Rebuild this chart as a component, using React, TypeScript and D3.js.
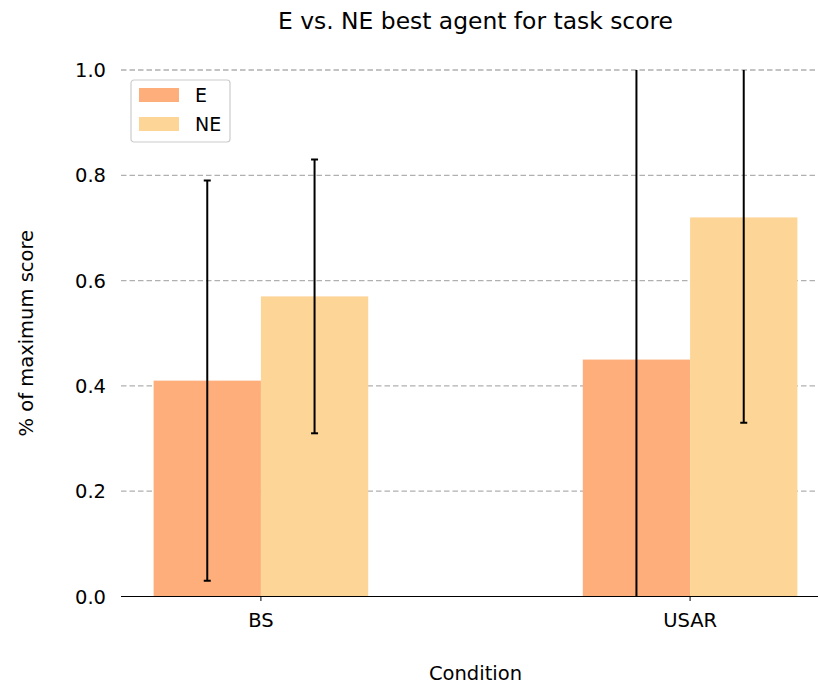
import React, { useEffect, useRef } from 'react';
import * as d3 from 'd3';

const conditions = ['BS', 'USAR'];
const seriesNames = ['E', 'NE'];
const eValues = [0.41, 0.45];
const neValues = [0.57, 0.72];
const eErrors = [0.38, 0.6];
const neErrors = [0.26, 0.39];
const yTicks = [0.0, 0.2, 0.4, 0.6, 0.8, 1.0];
const colors = ['#fdae7b', '#fdd597'];

const App: React.FC = () => {
  const svgRef = useRef<SVGSVGElement>(null);

  useEffect(() => {
    if (!svgRef.current) return;
    const width = 818;
    const height = 686;
    const svg = d3.select(svgRef.current);
    svg.selectAll('*').remove();
    svg.attr('width', width).attr('height', height);

    const font = 'DejaVu Sans, sans-serif';
    const tickSize = '19.5px';
    const margin = { top: 70, left: 121 };
    const plotRight = 830;
    const plotBottom = 596.5;

    const x = d3.scaleLinear().domain([-0.326, 1.326]).range([margin.left, plotRight]);
    const y = d3.scaleLinear().domain([0, 1]).range([plotBottom, margin.top]);
    const barW = 0.25;

    svg.append('defs').append('clipPath').attr('id', 'plotclip')
      .append('rect')
      .attr('x', margin.left).attr('y', margin.top)
      .attr('width', plotRight - margin.left).attr('height', plotBottom - margin.top);

    // grid
    svg.append('g').selectAll('line')
      .data(yTicks.filter(t => t > 0))
      .enter().append('line')
      .attr('x1', margin.left).attr('x2', plotRight)
      .attr('y1', d => y(d)).attr('y2', d => y(d))
      .attr('stroke', '#b0b0b0').attr('stroke-width', 1.3)
      .attr('stroke-dasharray', '5.5,3');

    const groups = [
      { vals: eValues, errs: eErrors, offset: -barW / 2, color: colors[0] },
      { vals: neValues, errs: neErrors, offset: barW / 2, color: colors[1] },
    ];

    const plot = svg.append('g').attr('clip-path', 'url(#plotclip)');

    groups.forEach(g => {
      plot.append('g').selectAll('rect')
        .data(conditions)
        .enter().append('rect')
        .attr('x', (_, i) => x(i + g.offset - barW / 2))
        .attr('width', (_, i) => x(i + g.offset + barW / 2) - x(i + g.offset - barW / 2))
        .attr('y', (_, i) => y(g.vals[i]))
        .attr('height', (_, i) => plotBottom - y(g.vals[i]))
        .attr('fill', g.color);
    });

    groups.forEach(g => {
      conditions.forEach((_, i) => {
        const cx = x(i + g.offset);
        const lo = g.vals[i] - g.errs[i];
        const hi = g.vals[i] + g.errs[i];
        const eg = plot.append('g').attr('stroke', '#000').attr('stroke-width', 2);
        eg.append('line').attr('x1', cx).attr('x2', cx).attr('y1', y(lo)).attr('y2', y(hi));
        [lo, hi].forEach(v => {
          eg.append('line').attr('x1', cx - 3.5).attr('x2', cx + 3.5).attr('y1', y(v)).attr('y2', y(v));
        });
      });
    });

    // x axis spine
    svg.append('line')
      .attr('x1', margin.left).attr('x2', plotRight)
      .attr('y1', plotBottom).attr('y2', plotBottom)
      .attr('stroke', '#000').attr('stroke-width', 1.2);

    conditions.forEach((c, i) => {
      svg.append('line')
        .attr('x1', x(i)).attr('x2', x(i))
        .attr('y1', plotBottom).attr('y2', plotBottom + 4.5)
        .attr('stroke', '#000').attr('stroke-width', 1);
      svg.append('text')
        .attr('x', x(i)).attr('y', plotBottom + 30.5)
        .attr('text-anchor', 'middle')
        .style('font-family', font).style('font-size', tickSize)
        .text(c);
    });

    yTicks.forEach(t => {
      svg.append('text')
        .attr('x', 106).attr('y', y(t) + 7)
        .attr('text-anchor', 'end')
        .style('font-family', font).style('font-size', tickSize)
        .text(t.toFixed(1));
    });

    svg.append('text')
      .attr('x', (margin.left + plotRight) / 2).attr('y', 29)
      .attr('text-anchor', 'middle')
      .style('font-family', font).style('font-size', '23.4px')
      .text('E vs. NE best agent for task score');

    svg.append('text')
      .attr('x', (margin.left + plotRight) / 2).attr('y', 680)
      .attr('text-anchor', 'middle')
      .style('font-family', font).style('font-size', tickSize)
      .text('Condition');

    svg.append('text')
      .attr('transform', `translate(33,${(margin.top + plotBottom) / 2}) rotate(-90)`)
      .attr('text-anchor', 'middle')
      .style('font-family', font).style('font-size', tickSize)
      .text('% of maximum score');

    // legend
    const lg = svg.append('g').attr('transform', 'translate(131,80)');
    lg.append('rect')
      .attr('x', 0).attr('y', 0).attr('width', 99).attr('height', 62)
      .attr('rx', 3).attr('fill', '#fff').attr('fill-opacity', 0.8)
      .attr('stroke', '#cccccc').attr('stroke-width', 1.2);
    seriesNames.forEach((s, i) => {
      lg.append('rect')
        .attr('x', 8).attr('y', 8 + i * 29).attr('width', 40).attr('height', 14)
        .attr('fill', colors[i]);
      lg.append('text')
        .attr('x', 64).attr('y', 22 + i * 29)
        .style('font-family', font).style('font-size', '19px')
        .text(s);
    });
  }, []);

  return (
    <div style={{ position: 'absolute', left: 0, top: 0, overflow: 'hidden' }}>
      <svg ref={svgRef} style={{ display: 'block' }}></svg>
    </div>
  );
};

export default App;
